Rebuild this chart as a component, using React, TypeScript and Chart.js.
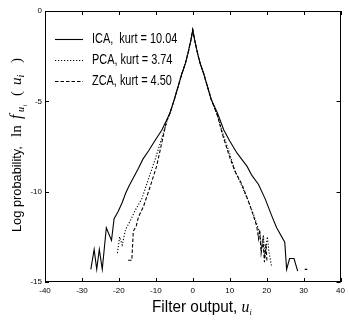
import React, { useEffect, useRef } from "react";
import { Chart, registerables } from "chart.js";
Chart.register(...registerables);

// ---- data (filter output u, log probability) ----
const icaX = [-27.6, -26.7, -26.0, -25.3, -24.5, -23.4, -22.0, -21.3, -20.2, -19.1, -18.2, -17.3, -16.0, -14.7, -13.5, -12.0, -10.0, -8.4, -7.0, -6.2, -5.0, -4.0, -3.0, -2.0, -1.3, -0.5, 0, 0.5, 1.3, 2.0, 3.0, 4.0, 5.0, 6.7, 8.4, 10.0, 12.0, 14.7, 16.0, 17.8, 19.6, 21.3, 22.7, 24.9, 25.4, 26.2, 27.4, 28.4, 29.4, 30.3, 31.0];
const icaY = [-14.3, -13.2, -14.3, -13.2, -14.3, -12.0, -12.7, -11.5, -11.1, -10.6, -10.1, -9.7, -9.2, -8.7, -8.2, -7.75, -7.1, -6.6, -6.0, -5.66, -4.9, -4.2, -3.5, -2.9, -2.34, -1.6, -1.05, -1.6, -2.34, -2.9, -3.5, -4.2, -4.9, -5.66, -6.59, -7.2, -7.87, -8.6, -9.1, -9.6, -10.4, -11.3, -12.0, -12.8, -14.3, -13.7, -13.7, -14.4, null, -14.3, -14.3];

const pcaX = [-20.4, -19.8, -19.1, -18.2, -16.9, -15.5, -13.8, -12.0, -10.0, -8.5, -7.0, -6.2, -5.0, -4.0, -3.0, -2.0, -1.3, -0.5, 0, 0.5, 1.3, 2.0, 3.0, 4.0, 5.0, 6.7, 8.0, 10.0, 11.3, 13.3, 15.0, 16.5, 17.5, 18.2, 18.6, 19.1, 19.5, 20.2, 20.6, 21.3];
const pcaY = [-13.4, -12.5, -12.95, -12.1, -11.6, -11.0, -10.4, -9.3, -8.1, -7.1, -6.1, -5.66, -4.9, -4.2, -3.5, -2.9, -2.34, -1.6, -1.05, -1.6, -2.34, -2.9, -3.5, -4.2, -4.9, -5.8, -6.7, -7.9, -8.8, -9.7, -10.5, -11.3, -11.9, -12.3, -13.2, -12.4, -13.6, -12.5, -13.3, -14.1];

const zcaX = [-17.5, -16.5, -16.1, -15.3, -14.7, -13.3, -11.5, -9.8, -8.5, -7.1, -6.2, -5.0, -4.0, -3.0, -2.0, -1.3, -0.5, 0, 0.5, 1.3, 2.0, 3.0, 4.0, 5.0, 6.7, 8.0, 10.0, 11.5, 13.3, 15.0, 16.2, 17.3, 17.8, 18.1, 18.5, 19.0, 19.4, 19.8, 20.1];
const zcaY = [-13.8, -13.8, -12.2, -11.9, -11.4, -10.8, -9.7, -8.6, -7.4, -6.1, -5.66, -4.9, -4.2, -3.5, -2.9, -2.34, -1.6, -1.05, -1.6, -2.34, -2.9, -3.5, -4.2, -4.9, -5.8, -6.8, -8.1, -8.9, -9.6, -10.5, -11.2, -11.9, -12.6, -12.1, -13.4, -12.7, -13.9, -12.9, -13.9];

const seriesLabels = ["ICA,  kurt = 10.04", "PCA, kurt = 3.74", "ZCA, kurt = 4.50"];
const xTickStep = 10;
const yTickStep = 5;

const toPts = (xs: number[], ys: (number | null)[]) => xs.map((x, i) => ({ x, y: ys[i] }));

const SANS = "'Liberation Sans', Arial, sans-serif";
const SERIF = "'Liberation Serif', 'Times New Roman', serif";

const framePlugin = {
  id: "frame",
  afterDraw(chart: any) {
    const { ctx, chartArea: a, scales } = chart;
    ctx.save();
    ctx.strokeStyle = "#000";
    ctx.lineWidth = 1;
    ctx.strokeRect(Math.round(a.left) + 0.5, Math.round(a.top) + 0.5, Math.round(a.right - a.left) - 1, Math.round(a.bottom - a.top) - 1);
    const tl = 4;
    ctx.beginPath();
    scales.x.ticks.forEach((t: any) => {
      const px = Math.round(scales.x.getPixelForValue(t.value)) + 0.5;
      ctx.moveTo(px, a.bottom); ctx.lineTo(px, a.bottom - tl);
      ctx.moveTo(px, a.top); ctx.lineTo(px, a.top + tl);
    });
    scales.y.ticks.forEach((t: any) => {
      const py = Math.round(scales.y.getPixelForValue(t.value)) + 0.5;
      ctx.moveTo(a.left, py); ctx.lineTo(a.left + tl, py);
      ctx.moveTo(a.right, py); ctx.lineTo(a.right - tl, py);
    });
    ctx.stroke();

    // legend inside plot
    const ds = chart.data.datasets;
    ds.forEach((d: any, i: number) => {
      const y = 39 + i * 21;
      ctx.save();
      ctx.strokeStyle = "#000";
      ctx.lineWidth = d.borderWidth;
      ctx.setLineDash(d.borderDash || []);
      ctx.beginPath();
      ctx.moveTo(55, y + 0.5); ctx.lineTo(83, y + 0.5);
      ctx.stroke();
      ctx.restore();
      ctx.save();
      ctx.fillStyle = "#000";
      ctx.font = `14px ${SANS}`;
      ctx.textBaseline = "middle";
      ctx.translate(92, y + 0.5);
      ctx.scale(0.78, 1);
      ctx.fillText(d.label, 0, 0);
      ctx.restore();
    });

    // x title: "Filter output, u_i"
    ctx.save();
    ctx.fillStyle = "#000";
    ctx.textBaseline = "alphabetic";
    ctx.translate(152, 312);
    ctx.scale(0.93, 1);
    ctx.font = `16.5px ${SANS}`;
    const t1 = "Filter output, ";
    ctx.fillText(t1, 0, 0);
    let xx = ctx.measureText(t1).width;
    ctx.font = `italic 17px ${SERIF}`;
    ctx.fillText("u", xx, 0);
    xx += ctx.measureText("u").width;
    ctx.font = `italic 9px ${SERIF}`;
    ctx.fillText("i", xx, 3);
    ctx.restore();

    // y title (rotated); each piece: text, font, start (screen y where it begins), baseline shift
    const parts: [string, string, number, number][] = [
      ["Log probability,", `12.8px ${SANS}`, 232, 0],
      ["ln", `15px ${SERIF}`, 137, 0],
      ["f", `italic 16px ${SERIF}`, 119, 0],
      ["u", `italic 10px ${SERIF}`, 112, 3],
      ["i", `italic 7px ${SERIF}`, 106.5, 6],
      ["(", `15px ${SERIF}`, 96, 0],
      ["u", `italic 15px ${SERIF}`, 85, 0],
      ["i", `italic 10px ${SERIF}`, 77.5, 3],
      [")", `15px ${SERIF}`, 63, 0],
    ];
    ctx.save();
    ctx.fillStyle = "#000";
    ctx.textBaseline = "alphabetic";
    ctx.translate(20.5, 0);
    ctx.rotate(-Math.PI / 2);
    parts.forEach(([s, f, start, dy]) => {
      ctx.font = f;
      ctx.fillText(s, -start, dy);
    });
    ctx.restore();
    ctx.restore();
  },
};

export default function App() {
  const ref = useRef<HTMLCanvasElement | null>(null);
  useEffect(() => {
    if (!ref.current) return;
    const chart = new Chart(ref.current, {
      type: "line",
      data: {
        datasets: [
          { label: seriesLabels[0], data: toPts(icaX, icaY), borderColor: "#000", borderWidth: 1.1, pointRadius: 0, tension: 0, borderDash: [] },
          { label: seriesLabels[1], data: toPts(pcaX, pcaY), borderColor: "#000", borderWidth: 1.1, pointRadius: 0, tension: 0, borderDash: [1.2, 1.8] },
          { label: seriesLabels[2], data: toPts(zcaX, zcaY), borderColor: "#000", borderWidth: 1.1, pointRadius: 0, tension: 0, borderDash: [3.5, 2] },
        ] as any,
      },
      options: {
        animation: false,
        responsive: false,
        events: [],
        layout: { padding: { top: 11, right: 4, left: 0, bottom: 0 } },
        plugins: { legend: { display: false }, tooltip: { enabled: false } },
        scales: {
          x: {
            type: "linear",
            min: -40,
            max: 40,
            ticks: { stepSize: xTickStep, color: "#000", font: { size: 8, family: SANS }, padding: 4, maxRotation: 0 },
            grid: { display: false, drawTicks: false },
            border: { display: false },
            afterFit: (s: any) => { s.height = 51; },
          },
          y: {
            type: "linear",
            min: -15,
            max: 0,
            ticks: { stepSize: yTickStep, color: "#000", font: { size: 8, family: SANS }, padding: 3 },
            grid: { display: false, drawTicks: false },
            border: { display: false },
            afterFit: (s: any) => { s.width = 45; },
          },
        },
      } as any,
      plugins: [framePlugin],
    });
    return () => chart.destroy();
  }, []);
  return (
    <div style={{ position: "absolute", left: 0, top: 0, width: 349, height: 333, background: "#fff" }}>
      <canvas ref={ref} width={349} height={333} style={{ display: "block" }} />
    </div>
  );
}
